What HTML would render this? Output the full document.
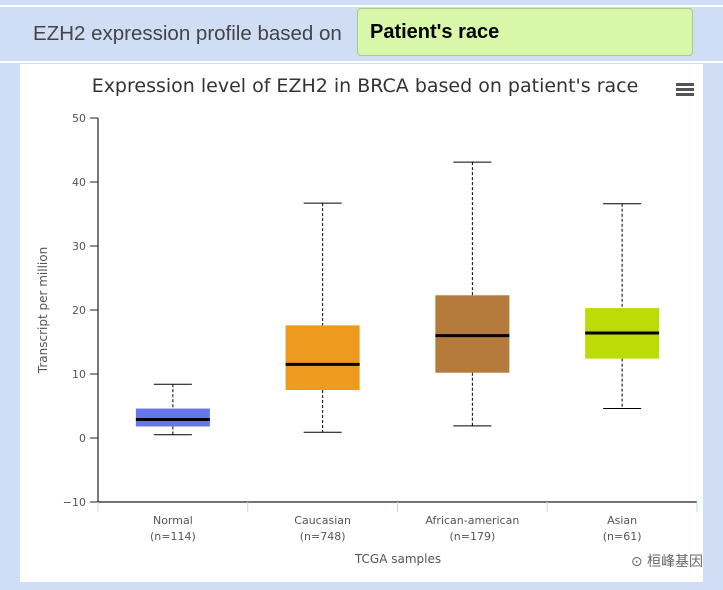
<!DOCTYPE html>
<html><head><meta charset="utf-8"><style>
body{margin:0;width:723px;height:590px;background:#d0def5;position:relative;overflow:hidden;font-family:"Liberation Sans","Noto Sans CJK SC",sans-serif}
#wl1{position:absolute;left:0;top:5px;width:723px;height:2px;background:#fff}
#wl2{position:absolute;left:0;top:61px;width:723px;height:2px;background:#fff}
#lbl{position:absolute;left:33px;top:22px;font-size:20.5px;color:#444}
#sel{position:absolute;left:357px;top:8px;width:336px;height:48px;background:#d8f7a8;border:1px solid #aac98a;border-radius:4px;box-sizing:border-box;font-weight:bold;font-size:20px;line-height:46px;padding-left:12px;color:#000}
#panel{position:absolute;left:20px;top:64px;width:683px;height:518px;background:#fff}
svg{position:absolute;left:0;top:0;font-family:"DejaVu Sans","Noto Sans CJK SC",sans-serif}
</style></head><body>
<div id="wl1"></div>
<div id="wl2"></div>
<div id="lbl">EZH2 expression profile based on</div>
<div id="sel">Patient's race</div>
<div id="panel"></div>
<svg id="chart" width="723" height="590"></svg>
<script>
const categories=["Normal","Caucasian","African-american","Asian"];
const counts=["(n=114)","(n=748)","(n=179)","(n=61)"];
const whiskerLow=[0.5,0.9,1.9,4.6];
const q1=[1.8,7.5,10.2,12.4];
const medians=[2.9,11.5,16.0,16.4];
const q3=[4.6,17.6,22.3,20.3];
const whiskerHigh=[8.4,36.7,43.1,36.6];
const colors=["#6678e8","#ee9a1f","#b57b3c","#bddb06"];
const yTicks=[-10,0,10,20,30,40,50];

const svg=document.getElementById('chart');
const NS="http://www.w3.org/2000/svg";
const x0=98,x1=697,yTop=118,yBot=502,yMin=-10,yMax=50;
const y=v=>yBot-(v-yMin)/(yMax-yMin)*(yBot-yTop);
const band=(x1-x0)/categories.length;
const xc=i=>x0+band*(i+0.5);
function mk(t,a,txt){const e=document.createElementNS(NS,t);for(const k in a)e.setAttribute(k,a[k]);if(txt!=null)e.textContent=txt;svg.appendChild(e);return e;}

let e=mk('text',{x:365,y:92,'text-anchor':'middle','font-size':19,fill:'#333'},"Expression level of EZH2 in BRCA based on patient's race");

const menu=mk('g',{});

for(let k=0;k<3;k++){const r=document.createElementNS(NS,'rect');r.setAttribute('x',676);r.setAttribute('y',83+k*5);r.setAttribute('width',18);r.setAttribute('height',3);r.setAttribute('fill','#555');menu.appendChild(r);}

yTicks.forEach(t=>{
  const l=mk('line',{x1:x0-8,x2:x0,y1:y(t),y2:y(t),stroke:'#222','stroke-width':1});
  
  const tx=mk('text',{x:x0-12,y:y(t)+4,'text-anchor':'end','font-size':11,fill:'#555'},t===-10?'−10':String(t));
  
});
e=mk('line',{x1:x0,x2:x0,y1:yTop,y2:yBot,stroke:'#222','stroke-width':1.2});

e=mk('line',{x1:x0,x2:x1,y1:yBot,y2:yBot,stroke:'#222','stroke-width':1.2});

for(let i=0;i<=categories.length;i++){
  e=mk('line',{x1:x0+band*i,x2:x0+band*i,y1:yBot,y2:yBot+10,stroke:'#ccd6eb','stroke-width':1});
  
}
e=mk('text',{x:0,y:0,transform:'translate(47,310) rotate(-90)','text-anchor':'middle','font-size':12,fill:'#555'},'Transcript per million');

e=mk('text',{x:398,y:563,'text-anchor':'middle','font-size':12,fill:'#555'},'TCGA samples');


const bw=74;
categories.forEach((c,i)=>{
  const cx=xc(i);
  let t=mk('text',{x:cx,y:524,'text-anchor':'middle','font-size':11,fill:'#555'},c);
  
  t=mk('text',{x:cx,y:540,'text-anchor':'middle','font-size':11,fill:'#555'},counts[i]);
  
  const g=mk('g',{});
  
  const add=(tag,a)=>{const el=document.createElementNS(NS,tag);for(const k in a)el.setAttribute(k,a[k]);g.appendChild(el);};
  add('line',{x1:cx,x2:cx,y1:y(whiskerHigh[i]),y2:y(q3[i]),stroke:'#000','stroke-dasharray':'3,2'});
  add('line',{x1:cx,x2:cx,y1:y(q1[i]),y2:y(whiskerLow[i]),stroke:'#000','stroke-dasharray':'3,2'});
  add('line',{x1:cx-19,x2:cx+19,y1:y(whiskerHigh[i]),y2:y(whiskerHigh[i]),stroke:'#000'});
  add('line',{x1:cx-19,x2:cx+19,y1:y(whiskerLow[i]),y2:y(whiskerLow[i]),stroke:'#000'});
  add('rect',{x:cx-bw/2,y:y(q3[i]),width:bw,height:y(q1[i])-y(q3[i]),fill:colors[i]});
  add('line',{x1:cx-bw/2,x2:cx+bw/2,y1:y(medians[i]),y2:y(medians[i]),stroke:'#000','stroke-width':3});
});
e=mk('text',{x:703,y:566,'text-anchor':'end','font-size':14,fill:'#666'},'⊙ 桓峰基因');

</script>
</body></html>
